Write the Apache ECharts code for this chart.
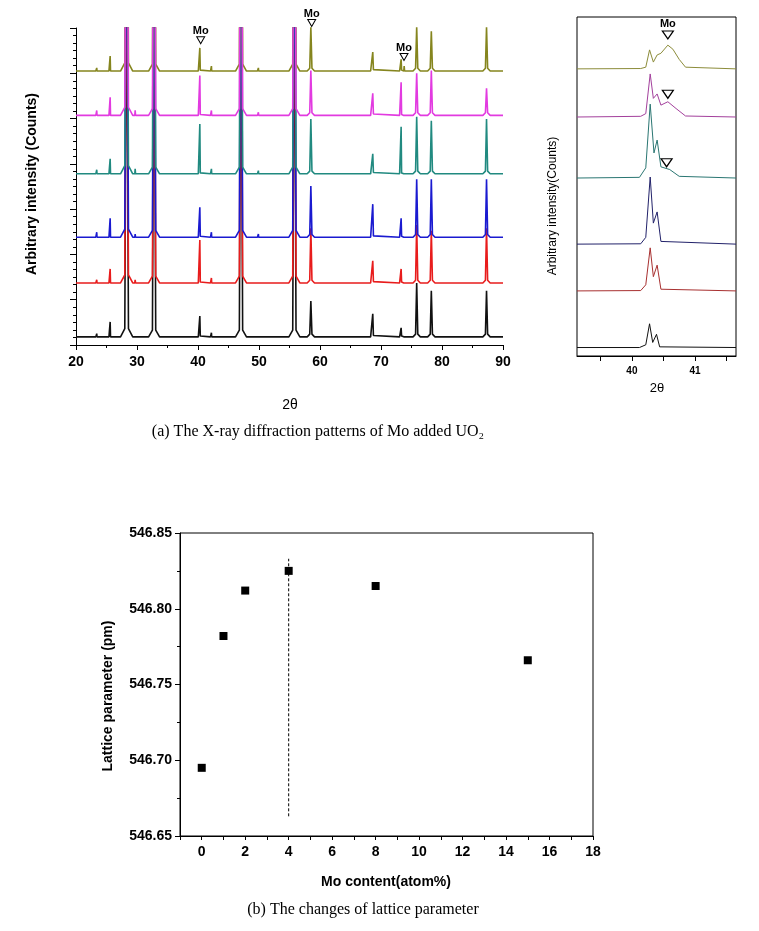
<!DOCTYPE html>
<html><head><meta charset="utf-8">
<script src="https://cdn.jsdelivr.net/npm/echarts@6/dist/echarts.min.js"></script>
<style>html,body{margin:0;padding:0;background:#fff}#c{width:759px;height:931px}</style>
</head><body><div id="c"></div>
<script>
// ---------- (a) main XRD pattern data ----------
const peakPos   = [23.4, 25.6, 28.3, 29.7, 32.8, 40.3, 42.2, 47.05, 49.9, 55.8, 58.5, 68.65, 73.3, 73.8, 75.85, 78.25, 87.3];
const peakHalf  = [0.15, 0.2, 1.0, 0.2, 0.9, 0.25, 0.15, 0.9, 0.15, 0.9, 0.6, 0.35, 0.25, 0.22, 0.6, 0.6, 0.6];
const peakSkirt = [0, 0, 0.18, 0, 0.15, 0.02, 0, 0.15, 0, 0.15, 0.06, 0.03, 0.02, 0, 0.06, 0.06, 0.06];

const baseBlack   = 0.18, baseRed = 1.37, baseBlue = 2.38, baseTeal = 3.78, baseMagenta = 5.07, baseOlive = 6.05;
const hBlack   = [0.07, 0.33, 9, 0.04, 9, 0.46, 0.09, 9, 0.04, 9, 0.79, 0.51, 0.20, 0, 1.19, 1.02, 1.02];
const hRed     = [0.07, 0.31, 9, 0.07, 9, 0.95, 0.11, 9, 0.04, 9, 1.21, 0.49, 0.31, 0, 1.28, 1.15, 1.21];
const hBlue    = [0.11, 0.42, 9, 0.07, 9, 0.66, 0.11, 9, 0.07, 9, 1.13, 0.73, 0.42, 0, 1.28, 1.28, 1.28];
const hTeal    = [0.09, 0.33, 9, 0.11, 9, 1.10, 0.11, 9, 0.07, 9, 1.21, 0.44, 1.04, 0, 1.26, 1.17, 1.21];
const hMagenta = [0.11, 0.40, 9, 0.11, 9, 0.88, 0.11, 9, 0.07, 9, 0.99, 0.49, 0.73, 0, 0.93, 0.99, 0.60];
const hOlive   = [0.07, 0.33, 9, 0.04, 9, 0.51, 0.11, 9, 0.07, 9, 0.97, 0.42, 0.26, 0.11, 0.97, 0.88, 0.97];

const moMainX = [40.44, 58.64, 73.77];
const moMainY = [6.73, 7.11, 6.36];

// ---------- (a) inset (around 40 deg) ----------
const insetBlack   = [[39.13,0.25],[40.12,0.25],[40.22,0.33],[40.28,0.95],[40.33,0.40],[40.39,0.64],[40.44,0.27],[41.65,0.25]];
const insetRed     = [[39.13,1.92],[40.14,1.93],[40.22,2.1],[40.29,3.19],[40.34,2.34],[40.40,2.68],[40.46,1.97],[41.65,1.92]];
const insetBlue    = [[39.13,3.30],[40.14,3.31],[40.22,3.5],[40.29,5.28],[40.34,3.92],[40.40,4.25],[40.46,3.38],[41.65,3.30]];
const insetTeal    = [[39.13,5.25],[40.12,5.27],[40.22,5.55],[40.29,7.43],[40.35,5.99],[40.40,6.37],[40.46,5.58],[40.60,5.50],[40.75,5.30],[41.65,5.25]];
const insetMagenta = [[39.13,7.05],[40.14,7.07],[40.22,7.15],[40.29,8.32],[40.34,7.60],[40.40,7.73],[40.46,7.40],[40.57,7.50],[40.70,7.30],[40.85,7.08],[41.65,7.05]];
const insetOlive   = [[39.13,8.47],[40.14,8.48],[40.22,8.52],[40.28,9.03],[40.34,8.67],[40.40,8.88],[40.46,8.93],[40.57,9.17],[40.65,9.05],[40.75,8.75],[40.85,8.52],[41.65,8.47]];
const moInset = [[40.57, 9.47], [40.57, 7.72], [40.55, 5.70]];
const insetTicks = [39.5, 40, 40.5, 41, 41.5];
const insetLabels = [40, 41];

// ---------- (b) lattice parameter ----------
const moContent = [0, 1, 2, 4, 8, 15];
const latticeParam = [546.695, 546.782, 546.812, 546.825, 546.815, 546.766];
const dashX = 4;
const dashY = [546.663, 546.833];

function buildTrace(base, heights) {
  const pts = [[20, base]];
  peakPos.forEach((p, i) => {
    const w = peakHalf[i], k = peakSkirt[i], h = heights[i];
    pts.push([p - w, base], [p - w * 0.3, base + k], [p, base + h], [p + w * 0.3, base + k], [p + w, base]);
  });
  pts.push([90, base]);
  return pts;
}

const SANS = 'Liberation Sans, Arial, sans-serif';
const SERIF = 'Liberation Serif, Times New Roman, serif';

const traces = [
  ['black', baseBlack, hBlack, '#111111'],
  ['red', baseRed, hRed, '#e81c1c'],
  ['blue', baseBlue, hBlue, '#1a1ad0'],
  ['teal', baseTeal, hTeal, '#218a80'],
  ['olive', baseOlive, hOlive, '#85851e'],
  ['magenta', baseMagenta, hMagenta, '#e23ae0']
];

const insetTraces = [
  [insetBlack, '#111111'], [insetRed, '#a83030'], [insetBlue, '#22226a'],
  [insetTeal, '#2a7672'], [insetMagenta, '#a3409c'], [insetOlive, '#8c8c3a']
];

const triSym = 'path://M0,0 L10,0 L5,8 Z';

const series = [];
traces.forEach(t => series.push({
  name: t[0], type: 'line', xAxisIndex: 0, yAxisIndex: 0, data: buildTrace(t[1], t[2]),
  symbol: 'none', lineStyle: { color: t[3], width: 1.6 }, clip: true, animation: false, z: 2
}));
series.push({
  type: 'scatter', xAxisIndex: 0, yAxisIndex: 0, clip: false, z: 5,
  data: moMainX.map((x, i) => [x, moMainY[i]]),
  symbol: triSym, symbolSize: [8, 7],
  itemStyle: { color: '#fff', borderColor: '#000', borderWidth: 1, opacity: 1 },
  label: { show: true, position: 'top', distance: 0, formatter: 'Mo', fontFamily: SANS, fontSize: 11, fontWeight: 'bold', color: '#000', textBorderWidth: 0 },
  emphasis: { disabled: true },
  animation: false
});
insetTraces.forEach(t => series.push({
  type: 'line', xAxisIndex: 1, yAxisIndex: 1, data: t[0], symbol: 'none',
  lineStyle: { color: t[1], width: 1 }, clip: true, animation: false
}));
series.push({
  type: 'scatter', xAxisIndex: 1, yAxisIndex: 1, clip: false, z: 5,
  data: moInset, symbol: triSym, symbolSize: [11, 8],
  itemStyle: { color: '#fff', borderColor: '#000', borderWidth: 1.2, opacity: 1 },
  label: { show: true, position: 'top', distance: 1, fontFamily: SANS, fontSize: 11, fontWeight: 'bold', color: '#000', textBorderWidth: 0,
    formatter: p => p.dataIndex === 0 ? 'Mo' : '' },
  emphasis: { disabled: true },
  animation: false
});
series.push({
  type: 'line', xAxisIndex: 2, yAxisIndex: 2, data: dashY.map(y => [dashX, y]), symbol: 'none',
  lineStyle: { color: '#000', width: 1, type: [3, 2] }, animation: false
});
series.push({
  type: 'scatter', xAxisIndex: 2, yAxisIndex: 2, data: moContent.map((x, i) => [x, latticeParam[i]]),
  symbol: 'rect', symbolSize: 8, itemStyle: { color: '#000', opacity: 1 }, animation: false, z: 5
});

const blackLine = { show: true, onZero: false, lineStyle: { color: '#000', width: 1 } };

const option = {
  backgroundColor: '#fff',
  animation: false,
  grid: [
    { left: 76, width: 427, top: 28, height: 317 },
    { left: 577, width: 159, top: 17, height: 339, show: true, borderColor: '#000', borderWidth: 1, backgroundColor: 'transparent' },
    { left: 180, width: 413, top: 533, height: 303, show: true, borderColor: '#000', borderWidth: 1, backgroundColor: 'transparent' }
  ],
  xAxis: [
    { gridIndex: 0, type: 'value', min: 20, max: 90, interval: 10, axisLine: blackLine,
      axisTick: { show: true, inside: false, length: 5, lineStyle: { color: '#000' } },
      minorTick: { show: true, splitNumber: 2, length: 3, lineStyle: { color: '#000' } },
      splitLine: { show: false },
      axisLabel: { fontFamily: SANS, fontSize: 14, fontWeight: 'bold', color: '#000', margin: 10 } },
    { gridIndex: 1, type: 'value', min: 39.13, max: 41.65, axisLine: blackLine,
      axisTick: { show: true, inside: false, length: 5, customValues: insetTicks, lineStyle: { color: '#000' } },
      splitLine: { show: false },
      axisLabel: { fontFamily: SANS, fontSize: 10, fontWeight: 'bold', color: '#000', margin: 10, customValues: insetLabels } },
    { gridIndex: 2, type: 'value', min: -1, max: 18, interval: 1, axisLine: blackLine,
      axisTick: { show: true, inside: false, length: 4, lineStyle: { color: '#000' } },
      splitLine: { show: false },
      axisLabel: { fontFamily: SANS, fontSize: 14, fontWeight: 'bold', color: '#000', margin: 9,
        formatter: v => (v >= 0 && Math.round(v) % 2 === 0) ? String(Math.round(v)) : '' } }
  ],
  yAxis: [
    { gridIndex: 0, type: 'value', min: 0, max: 7, interval: 1, axisLine: blackLine,
      axisTick: { show: true, inside: false, length: 6, lineStyle: { color: '#000' } },
      minorTick: { show: true, splitNumber: 6, length: 3, lineStyle: { color: '#000' } },
      splitLine: { show: false }, axisLabel: { show: false } },
    { gridIndex: 1, type: 'value', min: 0, max: 10, show: false },
    { gridIndex: 2, type: 'value', min: 546.65, max: 546.85, interval: 0.05, axisLine: blackLine,
      axisTick: { show: true, inside: false, length: 5, lineStyle: { color: '#000' } },
      minorTick: { show: true, splitNumber: 2, length: 3, lineStyle: { color: '#000' } },
      splitLine: { show: false },
      axisLabel: { fontFamily: SANS, fontSize: 14, fontWeight: 'bold', color: '#000', margin: 8,
        formatter: v => v.toFixed(2) } }
  ],
  graphic: [
    { type: 'text', x: 32, y: 184, rotation: Math.PI / 2,
      style: { text: 'Arbitrary intensity (Counts)', fontFamily: SANS, fontSize: 14, fontWeight: 'bold', fill: '#000', align: 'center', verticalAlign: 'middle' } },
    { type: 'text', x: 553, y: 206, rotation: Math.PI / 2,
      style: { text: 'Arbitrary intensity(Counts)', fontFamily: SANS, fontSize: 12, fill: '#000', align: 'center', verticalAlign: 'middle' } },
    { type: 'text', x: 290, y: 405,
      style: { text: '2θ', fontFamily: SANS, fontSize: 14, fill: '#000', align: 'center', verticalAlign: 'middle' } },
    { type: 'text', x: 657, y: 388,
      style: { text: '2θ', fontFamily: SANS, fontSize: 13, fill: '#000', align: 'center', verticalAlign: 'middle' } },
    { type: 'text', x: 318, y: 432,
      style: { text: '(a) The X-ray diffraction patterns of Mo added UO₂', fontFamily: SERIF, fontSize: 16, fill: '#000', align: 'center', verticalAlign: 'middle' } },
    { type: 'text', x: 108, y: 696, rotation: Math.PI / 2,
      style: { text: 'Lattice parameter (pm)', fontFamily: SANS, fontSize: 14, fontWeight: 'bold', fill: '#000', align: 'center', verticalAlign: 'middle' } },
    { type: 'text', x: 386, y: 882,
      style: { text: 'Mo content(atom%)', fontFamily: SANS, fontSize: 14, fontWeight: 'bold', fill: '#000', align: 'center', verticalAlign: 'middle' } },
    { type: 'text', x: 363, y: 910,
      style: { text: '(b) The changes of lattice parameter', fontFamily: SERIF, fontSize: 16, fill: '#000', align: 'center', verticalAlign: 'middle' } }
  ],
  series: series
};

const chart = echarts.init(document.getElementById('c'), null, { renderer: 'canvas', width: 759, height: 931 });
chart.setOption(option);
</script></body></html>
